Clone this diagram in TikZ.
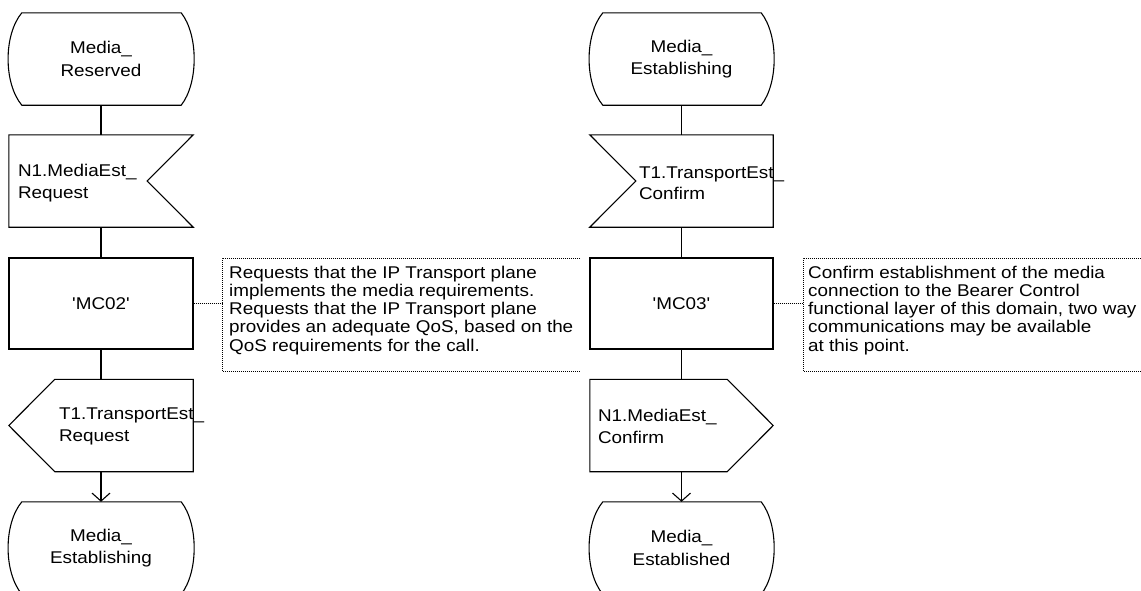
\documentclass[tikz,border=0pt]{standalone}
\usepackage{fontspec}
\newfontfamily\arialx[FakeStretch=1.11]{Liberation Sans}
\usetikzlibrary{arrows.meta,calc}
\newcommand\stateoutline[1]{%
  \draw[flow] ($(#1.north west)+(14,0)$) -- ($(#1.north east)+(-13,0)$)
    .. controls ($(#1.north east)+(4.3,22)$) and ($(#1.south east)+(4.3,-22)$) .. ($(#1.south east)+(-13,0)$)
    -- ($(#1.south west)+(14,0)$)
    .. controls ($(#1.south west)+(-4.3,-22)$) and ($(#1.north west)+(-4.3,22)$) .. ($(#1.north west)+(14,0)$) -- cycle;}
\begin{document}
\begin{tikzpicture}[x=1pt,y=-1pt,
  flow/.style={line width=1.1pt, line join=miter},
  txt/.style={font={\arialx\fontsize{17}{22.5}\selectfont}, inner sep=0pt, align=center},
  ltxt/.style={font={\arialx\fontsize{17}{21.5}\selectfont}, inner sep=0pt, align=left},
  ctxt/.style={font={\arialx\fontsize{17}{18.3}\selectfont}, inner sep=0pt, align=left},
  statebox/.style={txt, minimum width=186pt, minimum height=92pt},
  sigbox/.style={minimum width=184pt, minimum height=92pt, inner sep=0pt},
  taskbox/.style={flow, draw, txt, minimum width=184pt, minimum height=91pt},
  arr/.style={flow, -{Straight Barb[length=8pt,width=18pt]}},
  cmt/.style={line width=0.9pt, dash pattern=on 0.9pt off 1.1pt}
]
\useasboundingbox (0,0) rectangle (1141,590);

% ---------- left column ----------
\node[statebox] (st1) at (101,59) {Media\_\\Reserved};
\stateoutline{st1}

\node[sigbox] (in1) at (101,181) {};
\draw[flow] (in1.north west) -- (in1.north east) -- ($(in1.east)+(-46,0)$) -- (in1.south east) -- (in1.south west) -- cycle;
\node[ltxt, anchor=west] (in1t) at ($(in1.west)+(9,2)$) {N1.MediaEst\_\\Request};

\node[taskbox] (t1) at (101,303.5) {'MC02'};

\node[sigbox] (out1) at (101,425.5) {};
\draw[flow] ($(out1.north west)+(46,0)$) -- (out1.north east) -- (out1.south east) -- ($(out1.south west)+(46,0)$) -- (out1.west) -- cycle;
\node[ltxt, anchor=west] (out1t) at ($(out1.west)+(50,1)$) {T1.TransportEst\_\\Request};

\node[statebox] (st2) at (101,548) {Media\_\\Establishing};
\stateoutline{st2}

\draw[flow] (st1.south) -- (in1.north);
\draw[flow] (in1.south) -- (t1.north);
\draw[flow] (t1.south) -- (out1.north);
\draw[arr] (out1.south) -- (st2.north);

% comment 1
\coordinate (c1b) at (222,303.5);
\draw[cmt] (580,258) -- (222,258) -- (222,371) -- (580,371);
\node[ctxt, anchor=north west] (c1) at (229,265.5) {Requests that the IP Transport plane\\implements the media requirements.\\Requests that the IP Transport plane\\provides an adequate QoS, based on the\\QoS requirements for the call.};
\draw[cmt] (t1.east) -- (c1b);

% ---------- right column ----------
\node[statebox, minimum width=185pt] (st3) at (681.5,59) {Media\_\\Establishing};
\stateoutline{st3}

\node[sigbox, minimum width=183pt] (in2) at (681.5,181) {};
\draw[flow] (in2.north west) -- (in2.north east) -- (in2.south east) -- (in2.south west) -- ($(in2.west)+(46,0)$) -- cycle;
\node[ltxt, anchor=west] (in2t) at ($(in2.west)+(49,2)$) {T1.TransportEst\_\\Confirm};

\node[taskbox, minimum width=183pt] (t2) at (681.5,303.5) {'MC03'};

\node[sigbox, minimum width=183pt] (out2) at (681.5,425.5) {};
\draw[flow] (out2.north west) -- ($(out2.north east)+(-46,0)$) -- (out2.east) -- ($(out2.south east)+(-46,0)$) -- (out2.south west) -- cycle;
\node[ltxt, anchor=west] (out2t) at ($(out2.west)+(8,1)$) {N1.MediaEst\_\\Confirm};

\node[statebox, minimum width=185pt] (st4) at (681.5,548) {Media\_\\Established};
\stateoutline{st4}

\draw[flow] (st3.south) -- (in2.north);
\draw[flow] (in2.south) -- (t2.north);
\draw[flow] (t2.south) -- (out2.north);
\draw[arr] (out2.south) -- (st4.north);

% comment 2
\coordinate (c2b) at (803,303.5);
\draw[cmt] (1145,258) -- (803,258) -- (803,371) -- (1145,371);
\node[ctxt, anchor=north west] (c2) at (808,265.5) {Confirm establishment of the media\\connection to the Bearer Control\\functional layer of this domain, two way\\communications may be available\\at this point.};
\draw[cmt] (t2.east) -- (c2b);
\end{tikzpicture}
\end{document}
